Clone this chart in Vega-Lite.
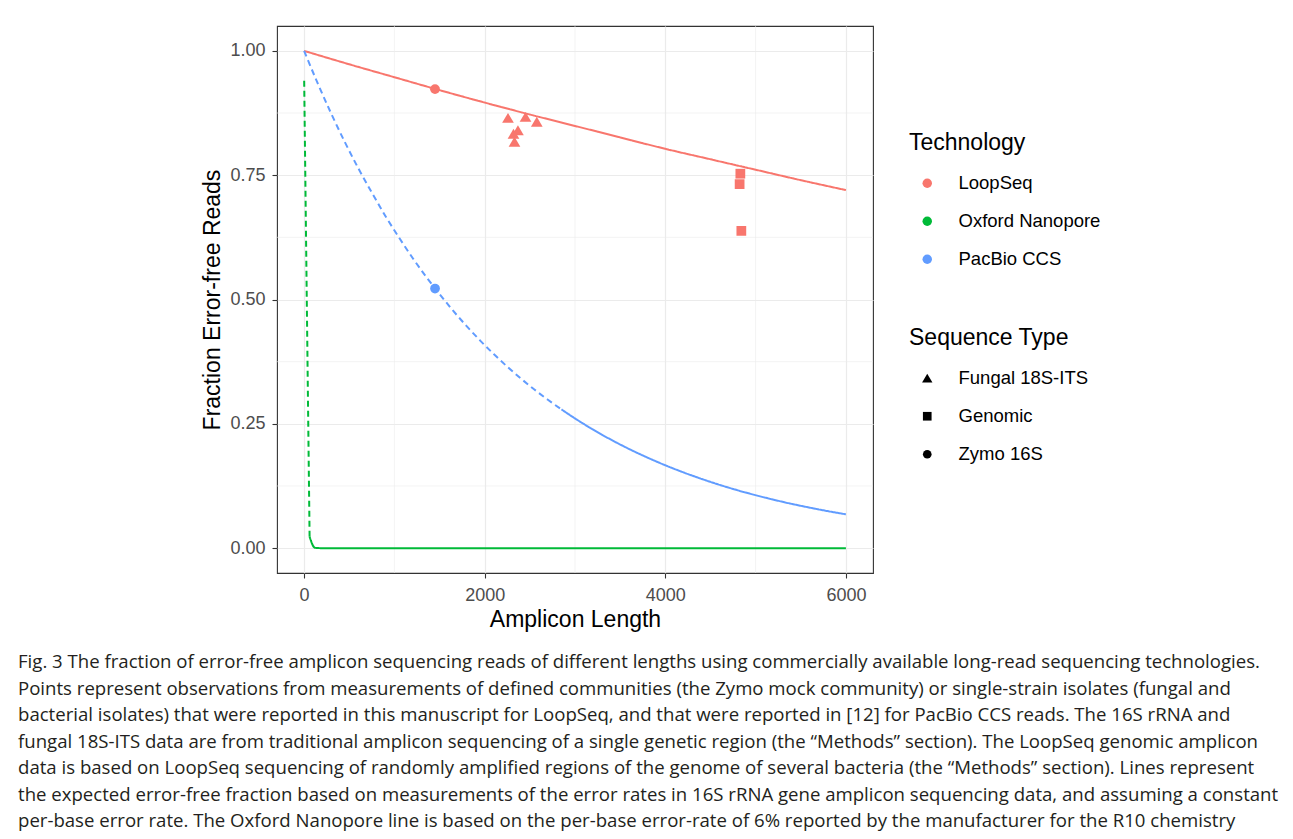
{
  "$schema": "https://vega.github.io/schema/vega-lite/v6.json",
  "width": 596,
  "height": 547,
  "autosize": {"type": "none"},
  "padding": {"left": 277, "top": 26, "right": 420, "bottom": 266},
  "background": "white",
  "config": {
    "font": "Liberation Sans",
    "view": {"stroke": "#333333", "strokeWidth": 1.1},
    "axis": {
      "domain": false,
      "gridColor": "#EBEBEB",
      "gridWidth": 1.2,
      "tickColor": "#333333",
      "tickSize": 5,
      "tickWidth": 1.1,
      "labelColor": "#4D4D4D",
      "labelFontSize": 18,
      "labelFont": "Liberation Sans",
      "titleFont": "Liberation Sans",
      "titleFontSize": 23,
      "titleFontWeight": "normal",
      "titleColor": "black"
    },
    "legend": {
      "labelFont": "Liberation Sans",
      "titleFont": "Liberation Sans",
      "labelFontSize": 18.5,
      "titleFontSize": 23,
      "titleFontWeight": "normal",
      "titleColor": "black",
      "labelColor": "black",
      "padding": 0,
      "rowPadding": 19,
      "titlePadding": 19,
      "symbolOffset": 9,
      "labelOffset": 22
    }
  },
  "title": {
    "text": [
      "Fig. 3 The fraction of error-free amplicon sequencing reads of different lengths using commercially available long-read sequencing technologies.",
      "Points represent observations from measurements of defined communities (the Zymo mock community) or single-strain isolates (fungal and",
      "bacterial isolates) that were reported in this manuscript for LoopSeq, and that were reported in [12] for PacBio CCS reads. The 16S rRNA and",
      "fungal 18S-ITS data are from traditional amplicon sequencing of a single genetic region (the “Methods” section). The LoopSeq genomic amplicon",
      "data is based on LoopSeq sequencing of randomly amplified regions of the genome of several bacteria (the “Methods” section). Lines represent",
      "the expected error-free fraction based on measurements of the error rates in 16S rRNA gene amplicon sequencing data, and assuming a constant",
      "per-base error rate. The Oxford Nanopore line is based on the per-base error-rate of 6% reported by the manufacturer for the R10 chemistry"
    ],
    "orient": "bottom",
    "anchor": "start",
    "frame": "group",
    "dx": -259,
    "offset": 22,
    "font": "Open Sans",
    "fontSize": 18.6,
    "fontWeight": "normal",
    "lineHeight": 26.5,
    "color": "#231F20"
  },
  "datasets": {
    "minorx": [{"v": 1000}, {"v": 3000}, {"v": 5000}],
    "minory": [{"v": 0.125}, {"v": 0.375}, {"v": 0.625}, {"v": 0.875}],
    "lines": [
      {"Technology": "LoopSeq", "seg": "ls", "style": "solid", "len": 0, "frac": 1.0},
      {"Technology": "LoopSeq", "seg": "ls", "style": "solid", "len": 500, "frac": 0.973},
      {"Technology": "LoopSeq", "seg": "ls", "style": "solid", "len": 1000, "frac": 0.947},
      {"Technology": "LoopSeq", "seg": "ls", "style": "solid", "len": 1500, "frac": 0.921},
      {"Technology": "LoopSeq", "seg": "ls", "style": "solid", "len": 2000, "frac": 0.896},
      {"Technology": "LoopSeq", "seg": "ls", "style": "solid", "len": 2500, "frac": 0.872},
      {"Technology": "LoopSeq", "seg": "ls", "style": "solid", "len": 3000, "frac": 0.849},
      {"Technology": "LoopSeq", "seg": "ls", "style": "solid", "len": 3500, "frac": 0.826},
      {"Technology": "LoopSeq", "seg": "ls", "style": "solid", "len": 4000, "frac": 0.803},
      {"Technology": "LoopSeq", "seg": "ls", "style": "solid", "len": 4500, "frac": 0.782},
      {"Technology": "LoopSeq", "seg": "ls", "style": "solid", "len": 5000, "frac": 0.761},
      {"Technology": "LoopSeq", "seg": "ls", "style": "solid", "len": 5500, "frac": 0.740},
      {"Technology": "LoopSeq", "seg": "ls", "style": "solid", "len": 6000, "frac": 0.720},
      {"Technology": "PacBio CCS", "seg": "pb1", "style": "dashed", "len": 0, "frac": 1.0},
      {"Technology": "PacBio CCS", "seg": "pb1", "style": "dashed", "len": 150, "frac": 0.935},
      {"Technology": "PacBio CCS", "seg": "pb1", "style": "dashed", "len": 300, "frac": 0.874},
      {"Technology": "PacBio CCS", "seg": "pb1", "style": "dashed", "len": 450, "frac": 0.817},
      {"Technology": "PacBio CCS", "seg": "pb1", "style": "dashed", "len": 600, "frac": 0.764},
      {"Technology": "PacBio CCS", "seg": "pb1", "style": "dashed", "len": 750, "frac": 0.715},
      {"Technology": "PacBio CCS", "seg": "pb1", "style": "dashed", "len": 900, "frac": 0.668},
      {"Technology": "PacBio CCS", "seg": "pb1", "style": "dashed", "len": 1050, "frac": 0.625},
      {"Technology": "PacBio CCS", "seg": "pb1", "style": "dashed", "len": 1200, "frac": 0.584},
      {"Technology": "PacBio CCS", "seg": "pb1", "style": "dashed", "len": 1350, "frac": 0.546},
      {"Technology": "PacBio CCS", "seg": "pb1", "style": "dashed", "len": 1500, "frac": 0.511},
      {"Technology": "PacBio CCS", "seg": "pb1", "style": "dashed", "len": 1650, "frac": 0.4775},
      {"Technology": "PacBio CCS", "seg": "pb1", "style": "dashed", "len": 1800, "frac": 0.4465},
      {"Technology": "PacBio CCS", "seg": "pb1", "style": "dashed", "len": 1950, "frac": 0.4174},
      {"Technology": "PacBio CCS", "seg": "pb1", "style": "dashed", "len": 2100, "frac": 0.3903},
      {"Technology": "PacBio CCS", "seg": "pb1", "style": "dashed", "len": 2250, "frac": 0.3649},
      {"Technology": "PacBio CCS", "seg": "pb1", "style": "dashed", "len": 2400, "frac": 0.3412},
      {"Technology": "PacBio CCS", "seg": "pb1", "style": "dashed", "len": 2550, "frac": 0.3190},
      {"Technology": "PacBio CCS", "seg": "pb1", "style": "dashed", "len": 2700, "frac": 0.2983},
      {"Technology": "PacBio CCS", "seg": "pb1", "style": "dashed", "len": 2850, "frac": 0.2790},
      {"Technology": "PacBio CCS", "seg": "pb2", "style": "solid", "len": 2850, "frac": 0.2790},
      {"Technology": "PacBio CCS", "seg": "pb2", "style": "solid", "len": 3000, "frac": 0.2608},
      {"Technology": "PacBio CCS", "seg": "pb2", "style": "solid", "len": 3300, "frac": 0.2280},
      {"Technology": "PacBio CCS", "seg": "pb2", "style": "solid", "len": 3600, "frac": 0.1993},
      {"Technology": "PacBio CCS", "seg": "pb2", "style": "solid", "len": 3900, "frac": 0.1743},
      {"Technology": "PacBio CCS", "seg": "pb2", "style": "solid", "len": 4200, "frac": 0.1524},
      {"Technology": "PacBio CCS", "seg": "pb2", "style": "solid", "len": 4500, "frac": 0.1332},
      {"Technology": "PacBio CCS", "seg": "pb2", "style": "solid", "len": 4800, "frac": 0.1164},
      {"Technology": "PacBio CCS", "seg": "pb2", "style": "solid", "len": 5100, "frac": 0.1018},
      {"Technology": "PacBio CCS", "seg": "pb2", "style": "solid", "len": 5400, "frac": 0.0890},
      {"Technology": "PacBio CCS", "seg": "pb2", "style": "solid", "len": 5700, "frac": 0.0778},
      {"Technology": "PacBio CCS", "seg": "pb2", "style": "solid", "len": 6000, "frac": 0.0680},
      {"Technology": "Oxford Nanopore", "seg": "on1", "style": "dashed", "len": 1, "frac": 0.94},
      {"Technology": "Oxford Nanopore", "seg": "on1", "style": "dashed", "len": 61, "frac": 0.023},
      {"Technology": "Oxford Nanopore", "seg": "on2", "style": "solid", "len": 61, "frac": 0.023},
      {"Technology": "Oxford Nanopore", "seg": "on2", "style": "solid", "len": 121, "frac": 0.0006},
      {"Technology": "Oxford Nanopore", "seg": "on2", "style": "solid", "len": 181, "frac": 0.0},
      {"Technology": "Oxford Nanopore", "seg": "on2", "style": "solid", "len": 6000, "frac": 0.0}
    ],
    "points": [
      {"Technology": "LoopSeq", "Sequence Type": "Zymo 16S", "len": 1450, "frac": 0.923},
      {"Technology": "PacBio CCS", "Sequence Type": "Zymo 16S", "len": 1450, "frac": 0.522},
      {"Technology": "LoopSeq", "Sequence Type": "Fungal 18S-ITS", "len": 2258, "frac": 0.865},
      {"Technology": "LoopSeq", "Sequence Type": "Fungal 18S-ITS", "len": 2452, "frac": 0.867},
      {"Technology": "LoopSeq", "Sequence Type": "Fungal 18S-ITS", "len": 2577, "frac": 0.857},
      {"Technology": "LoopSeq", "Sequence Type": "Fungal 18S-ITS", "len": 2368, "frac": 0.840},
      {"Technology": "LoopSeq", "Sequence Type": "Fungal 18S-ITS", "len": 2319, "frac": 0.833},
      {"Technology": "LoopSeq", "Sequence Type": "Fungal 18S-ITS", "len": 2330, "frac": 0.817},
      {"Technology": "LoopSeq", "Sequence Type": "Genomic", "len": 4831, "frac": 0.753},
      {"Technology": "LoopSeq", "Sequence Type": "Genomic", "len": 4823, "frac": 0.732},
      {"Technology": "LoopSeq", "Sequence Type": "Genomic", "len": 4842, "frac": 0.638}
    ]
  },
  "resolve": {"legend": {"color": "independent"}},
  "layer": [
    {
      "data": {"name": "minorx"},
      "mark": {"type": "rule", "stroke": "#EBEBEB", "strokeWidth": 0.6},
      "encoding": {"x": {"field": "v", "type": "quantitative", "scale": {"domain": [-300, 6300], "nice": false, "zero": false}}}
    },
    {
      "data": {"name": "minory"},
      "mark": {"type": "rule", "stroke": "#EBEBEB", "strokeWidth": 0.6},
      "encoding": {"y": {"field": "v", "type": "quantitative", "scale": {"domain": [-0.05, 1.05], "nice": false, "zero": false}}}
    },
    {
      "data": {"name": "lines"},
      "mark": {"type": "line", "strokeWidth": 2, "interpolate": "monotone"},
      "encoding": {
        "x": {"field": "len", "type": "quantitative"},
        "y": {"field": "frac", "type": "quantitative"},
        "color": {"field": "Technology", "type": "nominal", "legend": null},
        "detail": {"field": "seg"},
        "strokeDash": {"field": "style", "type": "nominal", "scale": {"domain": ["solid", "dashed"], "range": [[1, 0], [6, 4]]}, "legend": null}
      }
    },
    {
      "data": {"name": "points"},
      "mark": {"type": "point", "filled": true, "size": 95, "opacity": 1},
      "encoding": {
        "x": {
          "field": "len", "type": "quantitative", "title": "Amplicon Length",
          "axis": {"values": [0, 2000, 4000, 6000], "grid": true, "labelPadding": 8, "titlePadding": 4, "format": "d"}
        },
        "y": {
          "field": "frac", "type": "quantitative", "title": "Fraction Error-free Reads",
          "axis": {"values": [0, 0.25, 0.5, 0.75, 1], "format": ".2f", "grid": true, "labelPadding": 7, "titlePadding": 5}
        },
        "color": {
          "field": "Technology", "type": "nominal",
          "scale": {"domain": ["LoopSeq", "Oxford Nanopore", "PacBio CCS"], "range": ["#F8766D", "#00BA38", "#619CFF"]},
          "legend": {"orient": "none", "legendX": 632, "legendY": 106, "symbolType": "circle", "symbolSize": 90, "symbolStrokeWidth": 0}
        },
        "shape": {
          "field": "Sequence Type", "type": "nominal",
          "scale": {"domain": ["Fungal 18S-ITS", "Genomic", "Zymo 16S"], "range": ["M0,-1.05L1.2,1L-1.2,1Z", "square", "circle"]},
          "legend": {"orient": "none", "legendX": 632, "legendY": 301, "symbolSize": 75, "symbolFillColor": "black", "symbolStrokeColor": "black", "symbolStrokeWidth": 0}
        }
      }
    }
  ]
}
